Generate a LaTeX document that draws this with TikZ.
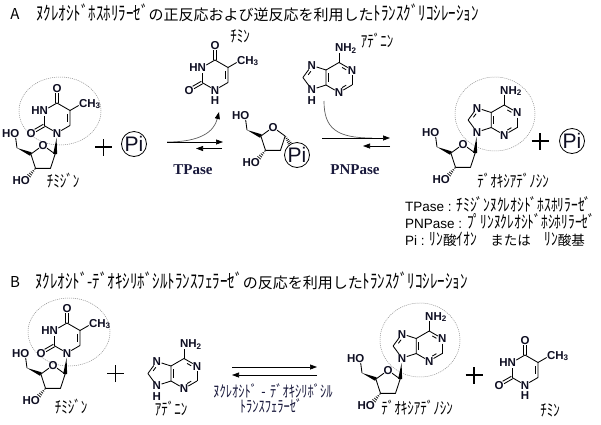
\documentclass[tikz,border=0pt]{standalone}
\usepackage{fontspec}
\setmainfont{Liberation Sans}
\newfontfamily\jpf{Noto Sans CJK JP}
\newfontfamily\serf{Liberation Serif}
\usetikzlibrary{calc,arrows.meta}
\definecolor{ink}{RGB}{15,15,35}
\definecolor{navy}{RGB}{25,25,60}
\definecolor{curvegray}{RGB}{95,95,95}
\definecolor{ringgray}{RGB}{140,140,140}
\newcommand\hetgap{5pt}
\newcommand\hk[1]{\scalebox{1}[1.3]{#1}}
% centered double bond, #2 is a labelled atom
\newcommand\DblB[2]{%
 \draw[bond,shorten >=\hetgap] ($(#1)!1.4pt!90:(#2)$) -- ($(#2)!1.4pt!-90:(#1)$);
 \draw[bond,shorten >=\hetgap] ($(#1)!1.4pt!-90:(#2)$) -- ($(#2)!1.4pt!90:(#1)$);}
% inner line of a ring double bond
\newcommand\InnB[4]{%
 \draw[bond] ($(#1)!#4!(#2)!2.8pt!(#3)$) -- ($(#2)!#4!(#1)!2.8pt!(#3)$);}
% bold wedge, narrow at #1, wide at #2
\newcommand\WedgeB[3]{%
 \fill[black] (#1) -- ($(#2)!#3!90:(#1)$) -- ($(#2)!#3!-90:(#1)$) -- cycle;}
% hashed wedge, narrow at #1, wide at #2
\newcommand\HashB[3]{%
 \foreach \t in {0.1,0.3,...,0.95}{%
   \pgfmathsetmacro\hw{0.4+\t*#3}%
   \draw[line width=0.7pt,black] ($(#1)!\t!(#2)!\hw pt!90:(#2)$) -- ($(#1)!\t!(#2)!\hw pt!-90:(#2)$);}}
% thymine ring, origin at ring centre
\newcommand\ThyBase[1]{%
 \coordinate (#1c4) at (0,-15);
 \coordinate (#1c5) at (13,-7.5);
 \coordinate (#1c6) at (13,7.5);
 \coordinate (#1n1) at (0,15);
 \coordinate (#1c2) at (-13,7.5);
 \coordinate (#1n3) at (-13,-7.5);
 \coordinate (#1o4) at (0,-30);
 \coordinate (#1o2) at (-26,15);
 \coordinate (#1me) at (26,-15);
 \coordinate (#1ctr) at (0,0);
 \node[atom,anchor=base east] (#1HN) at (-8.8,-3.4) {HN};
 \node[atom,anchor=base] (#1N1) at (0,19.1) {N};
 \node[atom,anchor=base] (#1O4) at (0,-25.9) {O};
 \node[atom,anchor=base] (#1O2) at (-26,19.1) {O};
 \node[atom,anchor=base west] (#1Me) at (21.8,-10.9) {CH\textsubscript{3}};
 \draw[bond,shorten <=\hetgap] (#1n3) -- (#1c4);
 \draw[bond] (#1c4) -- (#1c5) -- (#1c6);
 \draw[bond,shorten >=\hetgap] (#1c6) -- (#1n1);
 \draw[bond,shorten <=\hetgap] (#1n1) -- (#1c2);
 \draw[bond,shorten >=\hetgap] (#1c2) -- (#1n3);
 \draw[bond,shorten >=\hetgap] (#1c5) -- (#1me);
 \InnB{#1c5}{#1c6}{#1ctr}{0.15}
 \DblB{#1c4}{#1o4}
 \DblB{#1c2}{#1o2}}
% adenine, origin at six-ring centre
\newcommand\AdeBase[1]{%
 \coordinate (#1c6) at (0,-15);
 \coordinate (#1n1) at (13,-7.5);
 \coordinate (#1c2) at (13,7.5);
 \coordinate (#1n3) at (0,15);
 \coordinate (#1c4) at (-13,7.5);
 \coordinate (#1c5) at (-13,-7.5);
 \coordinate (#1nh) at (0,-30);
 \coordinate (#1n7) at (-27.2,-12.1);
 \coordinate (#1c8) at (-36.1,0);
 \coordinate (#1n9) at (-27.2,12.1);
 \coordinate (#1ctr) at (0,0);
 \coordinate (#1ctf) at (-23.3,0);
 \node[atom,anchor=base] (#1N1) at (13,-3.4) {N};
 \node[atom,anchor=base] (#1N3) at (0,19.1) {N};
 \node[atom,anchor=base] (#1N7) at (-27.2,-8) {N};
 \node[atom,anchor=base] (#1N9) at (-27.2,16.2) {N};
 \node[atom,anchor=base west] (#1NH) at (-4.2,-25.9) {NH\textsubscript{2}};
 \draw[bond,shorten >=\hetgap] (#1c6) -- (#1n1);
 \InnB{#1c6}{#1n1}{#1ctr}{0.3}
 \draw[bond,shorten <=\hetgap] (#1n1) -- (#1c2);
 \draw[bond,shorten >=\hetgap] (#1c2) -- (#1n3);
 \InnB{#1c2}{#1n3}{#1ctr}{0.3}
 \draw[bond,shorten <=\hetgap] (#1n3) -- (#1c4);
 \draw[bond] (#1c4) -- (#1c5) -- (#1c6);
 \InnB{#1c4}{#1c5}{#1ctr}{0.15}
 \draw[bond,shorten >=\hetgap] (#1c6) -- (#1nh);
 \draw[bond,shorten >=\hetgap] (#1c5) -- (#1n7);
 \draw[bond,shorten <=\hetgap] (#1n7) -- (#1c8);
 \InnB{#1n7}{#1c8}{#1ctf}{0.3}
 \draw[bond,shorten >=\hetgap] (#1c8) -- (#1n9);
 \draw[bond,shorten <=\hetgap] (#1n9) -- (#1c4);}
% deoxyribose, origin at ring centre
\newcommand\SugarB[1]{%
 \coordinate (#1o4) at (0,-12.76);
 \coordinate (#1c1) at (12.14,-3.94);
 \coordinate (#1c2) at (7.5,10.32);
 \coordinate (#1c3) at (-7.5,10.32);
 \coordinate (#1c4) at (-12.14,-3.94);
 \coordinate (#1c5) at (-26,-10);
 \coordinate (#1o5) at (-28,-25);
 \coordinate (#1o3) at (-17.5,22);
 \node[atom,anchor=base] (#1O4) at (0,-8.7) {O};
 \node[atom,anchor=base east] (#1O5) at (-23.4,-20.9) {HO};
 \node[atom,anchor=base east] (#1O3) at (-12.9,26.1) {HO};
 \draw[bond,shorten <=\hetgap] (#1o4) -- (#1c1);
 \draw[bond,line join=round] (#1c1) -- (#1c2) -- (#1c3) -- (#1c4);
 \draw[bond,shorten >=\hetgap] (#1c4) -- (#1o4);
 \WedgeB{#1c5}{#1c4}{1.9pt}
 \draw[bond,shorten >=\hetgap] (#1c5) -- (#1o5);
 \coordinate (#1o3s) at ($(#1o3)!4.5pt!(#1c3)$);
 \HashB{#1c3}{#1o3s}{2}}
\newcommand\PlusB[3]{%
 \coordinate (#1) at (#2,#3);
 \draw[plusline] ([xshift=-8.5pt]#1) -- ([xshift=8.5pt]#1);
 \draw[plusline] ([yshift=-8.5pt]#1) -- ([yshift=8.5pt]#1);}
\begin{document}
\begin{tikzpicture}[x=1pt,y=-1pt,
  bond/.style={line width=0.85pt,draw=black},
  atom/.style={font=\bfseries\fontsize{11.5}{11.5}\selectfont,text=ink,inner sep=0pt},
  ttl/.style={font=\jpf\fontsize{15}{15}\selectfont,text=black,inner sep=0pt},
  jlab/.style={font=\jpf\fontsize{13}{13}\selectfont,text=black,inner sep=0pt},
  lgd/.style={font=\fontsize{13.5}{13.5}\selectfont,text=black,inner sep=0pt},
  enz/.style={font=\serf\bfseries\fontsize{15}{15}\selectfont,text=navy,inner sep=0pt},
  enzj/.style={font=\jpf\fontsize{12.5}{12.5}\selectfont,text=navy,inner sep=0pt},
  picirc/.style={circle,draw=black,line width=0.8pt,minimum size=25pt,inner sep=0pt,
     font=\fontsize{21}{21}\selectfont,text=ink},
  plusline/.style={line width=1.8pt,draw=black},
  rxn/.style={line width=0.7pt,draw=black,-{Triangle[length=7pt,width=5pt]}},
  curv/.style={line width=0.7pt,draw=curvegray},
  ringc/.style={draw=ringgray,line width=0.5pt,dash pattern=on 1pt off 1pt}]
\fill[white] (0,0) rectangle (601,424);
\useasboundingbox (0,0) rectangle (601,424);

% ---------- titles ----------
\node[ttl] (labA) at (15,14) {A};
\node[ttl,anchor=west] (titA) at (36,13) {\hk{ﾇｸﾚｵｼﾄﾞﾎｽﾎﾘﾗｰｾﾞ}の正反応および逆反応を利用した\hk{ﾄﾗﾝｽｸﾞﾘｺｼﾚｰｼｮﾝ}};
\node[ttl] (labB) at (15,282) {B};
\node[ttl,anchor=west] (titB) at (35,281) {\hk{ﾇｸﾚｵｼﾄﾞ-ﾃﾞｵｷｼﾘﾎﾞｼﾙﾄﾗﾝｽﾌｪﾗｰｾﾞ}の反応を利用した\hk{ﾄﾗﾝｽｸﾞﾘｺｼﾚｰｼｮﾝ}};

% ---------- A: thymidine ----------
\draw[ringc] (60,111) ellipse [x radius=41pt,y radius=34pt];
\begin{scope}[shift={(57,118)}] \ThyBase{tA} \end{scope}
\begin{scope}[shift={(43,158)}] \SugarB{sA} \end{scope}
\coordinate (tAn1s) at ($(tAn1)!\hetgap!(sAc1)$);
\WedgeB{tAn1s}{sAc1}{2pt}
\node[jlab] (lbTdA) at (63,181) {\hk{ﾁﾐｼﾞﾝ}};

\PlusB{plA1}{103.5}{147}
\node[picirc] (piA1) at (134,144) {Pi};

% TPase arrows
\coordinate (tpS) at (167,142);
\coordinate (tpE) at (223,142);
\coordinate (tpB1) at (222,148.5);
\coordinate (tpB2) at (196,148.5);
\coordinate (tpC) at (219,112);
\draw[curv,-{Triangle[length=7pt,width=5pt,color=black]}] (tpS) .. controls (200,142) and (214,132) .. (tpC);
\draw[rxn] (tpS) -- (tpE);
\draw[rxn] (tpB1) -- (tpB2);
\node[enz] (tpLab) at (193,170) {TPase};

% free thymine (top)
\begin{scope}[shift={(215,75)}] \ThyBase{tF} \node[atom,anchor=base] (tFH) at (0,29.5) {H}; \end{scope}
\node[jlab] (lbTF) at (240,36) {\hk{ﾁﾐﾝ}};

% deoxyribose-1-phosphate
\begin{scope}[shift={(273,140)}] \SugarB{sM} \end{scope}
\node[picirc] (piM) at (297,155) {Pi};
\coordinate (sMh) at ($(piM.center)!13pt!(sMc1)$);
\HashB{sMc1}{sMh}{2}

% free adenine (top)
\begin{scope}[shift={(339,77.5)}] \AdeBase{aF} \node[atom,anchor=base] (aFH) at (-27.2,26.5) {H}; \end{scope}
\node[jlab] (lbAF) at (377,41) {\hk{ｱﾃﾞﾆﾝ}};

% PNPase arrows
\coordinate (pnS) at (322,138);
\coordinate (pnE) at (390,138);
\coordinate (pnB1) at (390,146);
\coordinate (pnB2) at (363,146);
\coordinate (pnC) at (324,101);
\coordinate (pnM) at (372,138);
\draw[curv] (pnC) .. controls (324,128) and (336,138) .. (pnM);
\draw[rxn] (pnS) -- (pnE);
\draw[rxn] (pnB1) -- (pnB2);
\node[enz] (pnLab) at (355,170) {PNPase};

% deoxyadenosine A
\draw[ringc] (495,114) ellipse [x radius=40pt,y radius=37pt];
\begin{scope}[shift={(504.2,120)}] \AdeBase{aA} \end{scope}
\begin{scope}[shift={(463,157)}] \SugarB{sD} \end{scope}
\coordinate (aAn9s) at ($(aAn9)!\hetgap!(sDc1)$);
\WedgeB{aAn9s}{sDc1}{2pt}
\node[jlab] (lbDA) at (513,181) {\hk{ﾃﾞｵｷｼｱﾃﾞﾉｼﾝ}};

\PlusB{plA2}{540}{141}
\node[picirc] (piA2) at (572,141) {Pi};

% legend
\node[lgd,anchor=west] (lg1) at (405,204) {TPase : {\jpf\hk{ﾁﾐｼﾞﾝﾇｸﾚｵｼﾄﾞﾎｽﾎﾘﾗｰｾﾞ}}};
\node[lgd,anchor=west] (lg2) at (405,221.5) {PNPase : {\jpf\hk{ﾌﾟﾘﾝﾇｸﾚｵｼﾄﾞﾎｼﾎﾘﾗｰｾﾞ}}};
\node[lgd,anchor=west] (lg3) at (405,239) {Pi : {\jpf\hk{ﾘﾝ}酸\hk{ｲｵﾝ}　または　\hk{ﾘﾝ}酸基}};

% ---------- B ----------
\draw[ringc] (69,332) ellipse [x radius=41pt,y radius=34pt];
\begin{scope}[shift={(67,338)}] \ThyBase{tB} \end{scope}
\begin{scope}[shift={(53,378)}] \SugarB{sB} \end{scope}
\coordinate (tBn1s) at ($(tBn1)!\hetgap!(sBc1)$);
\WedgeB{tBn1s}{sBc1}{2pt}
\node[jlab] (lbTdB) at (71,407) {\hk{ﾁﾐｼﾞﾝ}};

\PlusB{plB1}{115.5}{373.5}

\begin{scope}[shift={(184,373.5)}] \AdeBase{aG} \node[atom,anchor=base] (aGH) at (-27.2,26.5) {H}; \end{scope}
\node[jlab] (lbAG) at (171,409) {\hk{ｱﾃﾞﾆﾝ}};

\coordinate (bF1) at (232,367);
\coordinate (bF2) at (317,367);
\coordinate (bB1) at (317,375);
\coordinate (bB2) at (232,375);
\draw[rxn] (bF1) -- (bF2);
\draw[rxn] (bB1) -- (bB2);
\node[enzj] (enzB1) at (273,391) {\hk{ﾇｸﾚｵｼﾄﾞ\hspace{0.35em}-\hspace{0.35em}ﾃﾞｵｷｼﾘﾎﾞｼﾙ}};
\node[enzj] (enzB2) at (271,406) {\hk{ﾄﾗﾝｽﾌｪﾗｰｾﾞ}};

\draw[ringc] (420,340) ellipse [x radius=40pt,y radius=37pt];
\begin{scope}[shift={(429.2,346)}] \AdeBase{aB} \end{scope}
\begin{scope}[shift={(388,383)}] \SugarB{sE} \end{scope}
\coordinate (aBn9s) at ($(aBn9)!\hetgap!(sEc1)$);
\WedgeB{aBn9s}{sEc1}{2pt}
\node[jlab] (lbDB) at (417,408) {\hk{ﾃﾞｵｷｼｱﾃﾞﾉｼﾝ}};

\PlusB{plB2}{474}{375}

\begin{scope}[shift={(525,370)}] \ThyBase{tG} \node[atom,anchor=base] (tGH) at (0,29.5) {H}; \end{scope}
\node[jlab] (lbTG) at (550,410) {\hk{ﾁﾐﾝ}};
\end{tikzpicture}
\end{document}
